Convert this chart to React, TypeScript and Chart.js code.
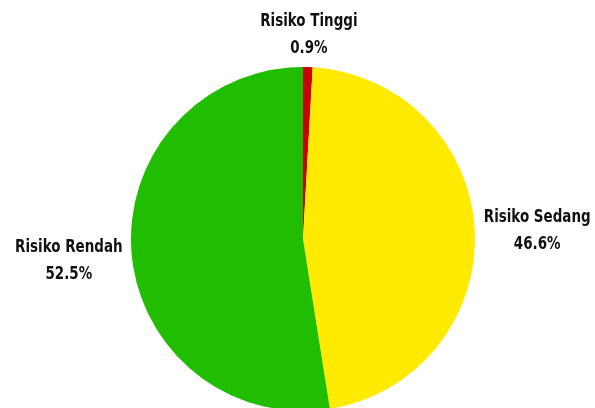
import React, { useEffect, useRef } from "react";
import { Chart, registerables } from "chart.js";

Chart.register(...registerables);

const categories = ["Risiko Tinggi", "Risiko Sedang", "Risiko Rendah"];
const values = [0.9, 46.6, 52.5];
const valueLabels = ["0.9%", "46.6%", "52.5%"];
const colors = ["#c80000", "#ffea00", "#20bd00"];

const FONT = "bold 17px 'DejaVu Sans Condensed', sans-serif";
const XSCALE = 0.88;

const outsideLabels = {
  id: "outsideLabels",
  afterDatasetsDraw(chart: any) {
    const ctx = chart.ctx;
    const meta = chart.getDatasetMeta(0);
    ctx.save();
    ctx.font = FONT;
    ctx.fillStyle = "#111";
    ctx.textAlign = "center";
    ctx.textBaseline = "middle";
    const lineH = 27;
    const offset = 9;
    const shiftY = 4;
    meta.data.forEach((arc: any, i: number) => {
      const { x, y, startAngle, endAngle, outerRadius } = arc.getProps(
        ["x", "y", "startAngle", "endAngle", "outerRadius"],
        true
      );
      const mid = (startAngle + endAngle) / 2;
      const ux = Math.cos(mid);
      const uy = Math.sin(mid);
      const lines = [categories[i], valueLabels[i]];
      const w = Math.max(...lines.map((l) => ctx.measureText(l).width * XSCALE));
      const h = lineH * lines.length;
      const ext = Math.min(
        Math.abs(ux) > 1e-6 ? w / 2 / Math.abs(ux) : Infinity,
        Math.abs(uy) > 1e-6 ? h / 2 / Math.abs(uy) : Infinity
      );
      const d = outerRadius + offset + ext;
      const cx = x + ux * d;
      const cy = y + uy * d + shiftY;
      lines.forEach((l, k) => {
        ctx.save();
        ctx.translate(cx, cy - h / 2 + lineH * (k + 0.5));
        ctx.scale(XSCALE, 1);
        ctx.fillText(l, 0, 0);
        ctx.restore();
      });
    });
    ctx.restore();
  },
};

export default function App() {
  const ref = useRef<HTMLCanvasElement | null>(null);
  useEffect(() => {
    document.body.style.margin = "0";
    const chart = new Chart(ref.current!, {
      type: "pie",
      data: {
        labels: categories,
        datasets: [
          {
            data: values,
            backgroundColor: colors,
            borderWidth: 0,
          },
        ],
      },
      options: {
        animation: false,
        responsive: false,
        maintainAspectRatio: false,
        layout: { padding: { top: 67, bottom: 19, left: 131, right: 120 } },
        plugins: {
          legend: { display: false },
          tooltip: { enabled: false },
        },
      },
      plugins: [outsideLabels],
    });
    return () => chart.destroy();
  }, []);
  return (
    <div style={{ width: 595, height: 408, overflow: "hidden", background: "#fff" }}>
      <canvas ref={ref} width={595} height={430} style={{ display: "block" }} />
    </div>
  );
}
